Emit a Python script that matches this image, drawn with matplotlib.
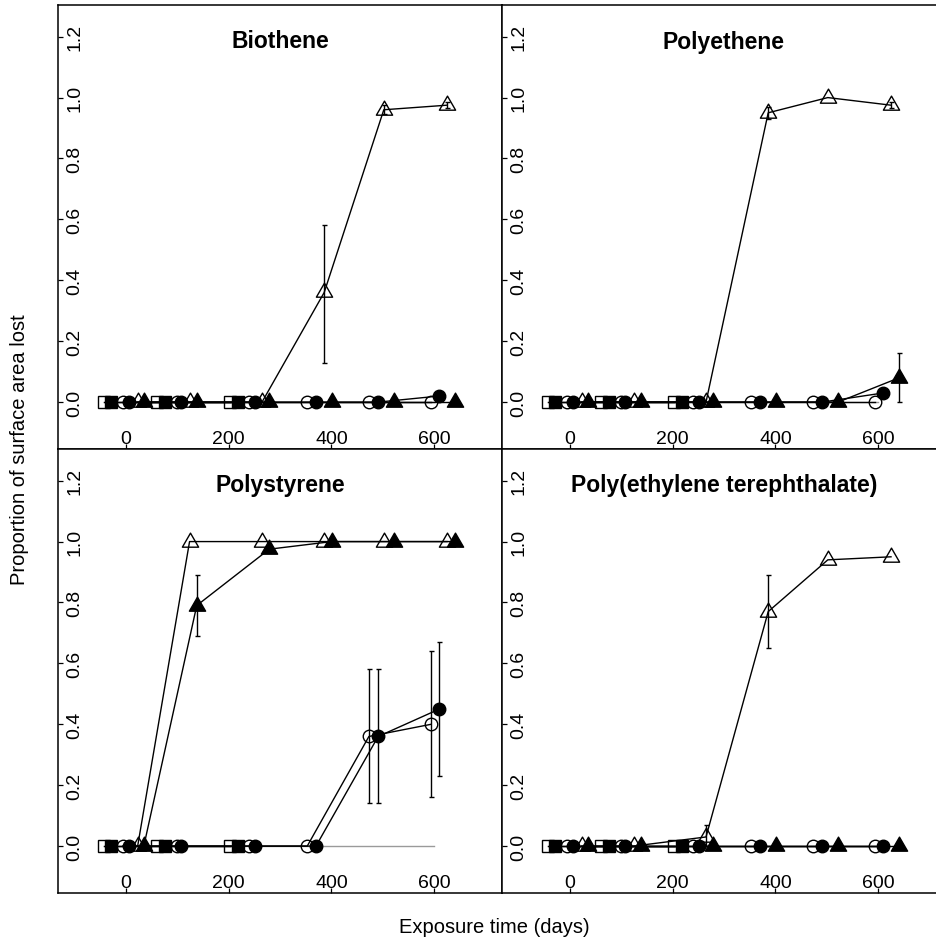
import matplotlib
matplotlib.use('Agg')
import matplotlib.pyplot as plt
import numpy as np
from matplotlib.path import Path
import matplotlib.transforms as mtransforms

plt.rcParams['font.family'] = ['Liberation Sans', 'DejaVu Sans']

# ---------------- data ----------------
panel_titles = ["Biothene", "Polyethene", "Polystyrene", "Poly(ethylene terephthalate)"]

# exposure days of each series (slightly offset per treatment)
days_sq_open = [-43, 60, 202]
days_sq_fill = [-29, 76, 219]
days_ci_open = [-6, 99, 239, 353, 473, 594]
days_ci_fill = [6, 108, 251, 370, 491, 610]
days_tr_open = [23, 124, 265, 386, 502, 625]
days_tr_fill = [35, 138, 279, 401, 522, 641]

# Biothene
bio_sq_open = [0, 0, 0]
bio_sq_fill = [0, 0, 0]
bio_ci_open = [0, 0, 0, 0, 0, 0]
bio_ci_fill = [0, 0, 0, 0, 0, 0.02]
bio_tr_open = [0, 0, 0, 0.36, 0.96, 0.975]
bio_tr_fill = [0, 0, 0, 0, 0, 0]
bio_tr_open_err = {3: (0.13, 0.58), 4: (0.945, 0.975), 5: (0.965, 0.985)}

# Polyethene
pe_sq_open = [0, 0, 0]
pe_sq_fill = [0, 0, 0]
pe_ci_open = [0, 0, 0, 0, 0, 0]
pe_ci_fill = [0, 0, 0, 0, 0, 0.03]
pe_tr_open = [0, 0, 0, 0.95, 1.0, 0.975]
pe_tr_fill = [0, 0, 0, 0, 0, 0.08]
pe_tr_open_err = {3: (0.93, 0.97), 5: (0.965, 0.985)}
pe_tr_fill_err = {5: (0.0, 0.16)}

# Polystyrene
ps_sq_open = [0, 0, 0]
ps_sq_fill = [0, 0, 0]
ps_ci_open = [0, 0, 0, 0, 0.36, 0.40]
ps_ci_fill = [0, 0, 0, 0, 0.36, 0.45]
ps_tr_open = [0, 1.0, 1.0, 1.0, 1.0, 1.0]
ps_tr_fill = [0, 0.79, 0.975, 1.0, 1.0, 1.0]
ps_ci_open_err = {4: (0.14, 0.58), 5: (0.16, 0.64)}
ps_ci_fill_err = {4: (0.14, 0.58), 5: (0.23, 0.67)}
ps_tr_fill_err = {1: (0.69, 0.89)}

# Poly(ethylene terephthalate)
pet_sq_open = [0, 0, 0]
pet_sq_fill = [0, 0, 0]
pet_ci_open = [0, 0, 0, 0, 0, 0]
pet_ci_fill = [0, 0, 0, 0, 0, 0]
pet_tr_open = [0, 0, 0.03, 0.77, 0.94, 0.95]
pet_tr_fill = [0, 0, 0, 0, 0, 0]
pet_tr_open_err = {2: (0.0, 0.07), 3: (0.65, 0.89)}

ref_line_days = [-43, 600]
ref_line_vals = [0, 0]

x_ticks = [0, 200, 400, 600]
y_ticks = [0.0, 0.2, 0.4, 0.6, 0.8, 1.0, 1.2]

panels = [
    dict(sq_open=bio_sq_open, sq_fill=bio_sq_fill, ci_open=bio_ci_open, ci_fill=bio_ci_fill,
         tr_open=bio_tr_open, tr_fill=bio_tr_fill, err={'tr_open': bio_tr_open_err}),
    dict(sq_open=pe_sq_open, sq_fill=pe_sq_fill, ci_open=pe_ci_open, ci_fill=pe_ci_fill,
         tr_open=pe_tr_open, tr_fill=pe_tr_fill,
         err={'tr_open': pe_tr_open_err, 'tr_fill': pe_tr_fill_err}),
    dict(sq_open=ps_sq_open, sq_fill=ps_sq_fill, ci_open=ps_ci_open, ci_fill=ps_ci_fill,
         tr_open=ps_tr_open, tr_fill=ps_tr_fill,
         err={'ci_open': ps_ci_open_err, 'ci_fill': ps_ci_fill_err, 'tr_fill': ps_tr_fill_err}),
    dict(sq_open=pet_sq_open, sq_fill=pet_sq_fill, ci_open=pet_ci_open, ci_fill=pet_ci_fill,
         tr_open=pet_tr_open, tr_fill=pet_tr_fill, err={'tr_open': pet_tr_open_err}),
]

series_days = dict(sq_open=days_sq_open, sq_fill=days_sq_fill, ci_open=days_ci_open,
                   ci_fill=days_ci_fill, tr_open=days_tr_open, tr_fill=days_tr_fill)

# ---------------- styles ----------------
s3 = np.sqrt(3)
tri = Path([(-1, -1 / s3), (1, -1 / s3), (0, 2 / s3), (-1, -1 / s3)],
           [Path.MOVETO, Path.LINETO, Path.LINETO, Path.CLOSEPOLY])
styles = dict(
    sq_open=dict(marker='s', ms=8.2, mfc='none'),
    sq_fill=dict(marker='s', ms=8.2, mfc='black'),
    ci_open=dict(marker='o', ms=9.0, mfc='none'),
    ci_fill=dict(marker='o', ms=9.0, mfc='black'),
    tr_open=dict(marker=tri, ms=13.5, mfc='none'),
    tr_fill=dict(marker=tri, ms=13.5, mfc='black'),
)
order = ['sq_open', 'sq_fill', 'ci_open', 'ci_fill', 'tr_open', 'tr_fill']

W, H = 937, 945
fig = plt.figure(figsize=(W / 100, H / 100), dpi=100)


def pos(l, t, w, h):
    return [l / W, 1 - (t + h) / H, w / W, h / H]


S = 444
corners = [(58, 6), (502, 6), (58, 450), (502, 450)]
lw = 1.0

for i, (l, t) in enumerate(corners):
    ax = fig.add_axes(pos(l, t, S, S))
    d = panels[i]
    ax.plot(ref_line_days, ref_line_vals, color='#9a9a9a', lw=1.0, zorder=1)
    for k in order:
        st = styles[k]
        x = series_days[k]
        y = d[k]
        ax.plot(x, y, color='black', lw=lw, zorder=2)
        e = d['err'].get(k, {})
        for idx, (lo, hi) in e.items():
            ax.errorbar([x[idx]], [y[idx]], yerr=[[y[idx] - lo], [hi - y[idx]]],
                        fmt='none', ecolor='black', elinewidth=lw, capsize=1.8,
                        capthick=lw, zorder=3)
        ax.plot(x, y, linestyle='none', marker=st['marker'], ms=st['ms'],
                mfc=st['mfc'], mec='black', mew=1.0, zorder=4)

    ax.set_xlim(-132, 732)
    ax.set_ylim(-0.154, 1.304)
    for sp in ax.spines.values():
        sp.set_linewidth(1.1)
    ax.set_xticks(x_ticks)
    ax.set_yticks(y_ticks)
    ax.tick_params(direction='in', length=3.6, width=0.9, labelbottom=False,
                   labelleft=False)

    # inside tick labels
    tx = mtransforms.blended_transform_factory(ax.transData, ax.transAxes)
    off_x = mtransforms.offset_copy(tx, fig=fig, x=0, y=6, units='dots')
    for v in x_ticks:
        ax.text(v, 0, f"{v}", transform=off_x, ha='center', va='baseline',
                fontsize=14)
    ty = mtransforms.blended_transform_factory(ax.transAxes, ax.transData)
    off_y = mtransforms.offset_copy(ty, fig=fig, x=17, y=0, units='dots')
    for v in y_ticks:
        ax.text(0, v, f"{v:.1f}", transform=off_y, ha='center', va='center',
                rotation=90, fontsize=14)

    ax.text(0.5, 1 - 36 / S, panel_titles[i], transform=ax.transAxes,
            ha='center', va='center', fontweight='bold', fontsize=16.5)

fig.text(20 / W, 1 - 450 / H, 'Proportion of surface area lost', rotation=90,
         ha='center', va='center', fontsize=14.5)
fig.text(494 / W, 1 - 928 / H, 'Exposure time (days)', ha='center',
         va='center', fontsize=14.5)

fig.savefig('out.png', dpi=100)
